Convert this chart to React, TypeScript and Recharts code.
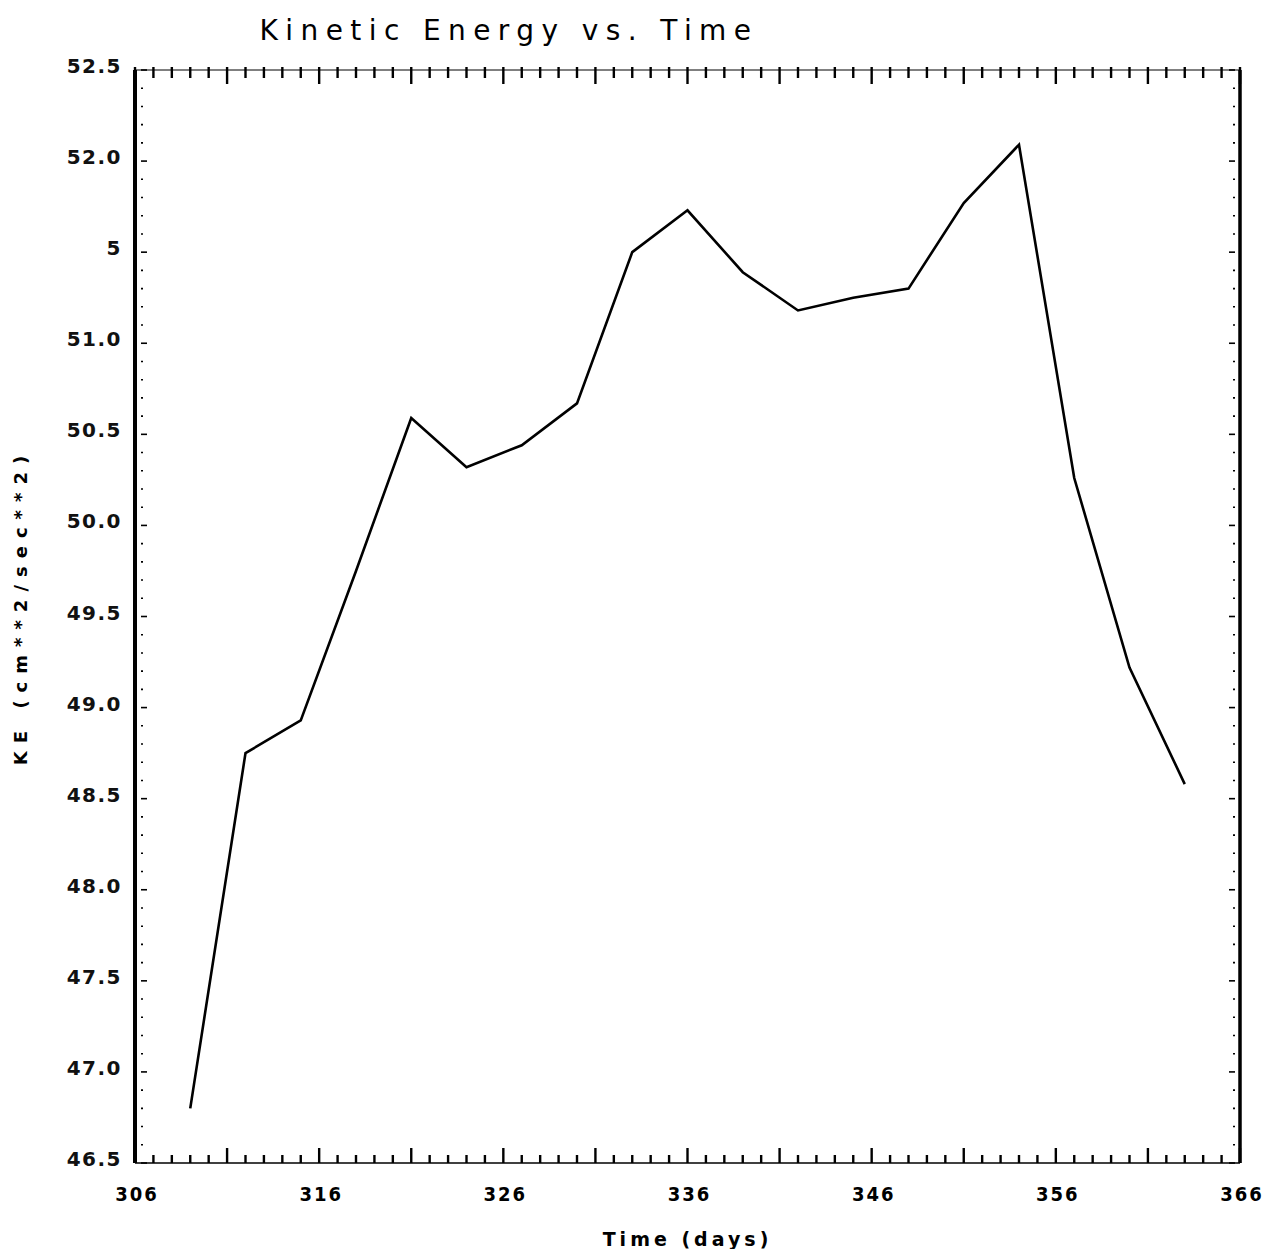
import React from 'react';
import { LineChart, Line, XAxis, YAxis, Label } from 'recharts';

// ---- data ----
const days = [309, 312, 315, 318, 321, 324, 327, 330, 333, 336, 339, 342, 345, 348, 351, 354, 357, 360, 363];
const kineticEnergy = [46.8, 48.75, 48.93, 49.75, 50.59, 50.32, 50.44, 50.67, 51.5, 51.73, 51.39, 51.18, 51.25, 51.3, 51.77, 52.09, 50.26, 49.22, 48.58];

const xLabelDays = [306, 316, 326, 336, 346, 356, 366];
const xTickDays = Array.from({ length: 61 }, (_, i) => 306 + i);

const yLabelValues = [46.5, 47.0, 47.5, 48.0, 48.5, 49.0, 49.5, 50.0, 50.5, 51.0, 51.5, 52.0, 52.5];
const yLabelTexts = ['46.5', '47.0', '47.5', '48.0', '48.5', '49.0', '49.5', '50.0', '50.5', '51.0', '5', '52.0', '52.5'];
const yTickValues = Array.from({ length: 61 }, (_, i) => Math.round((46.5 + i * 0.1) * 10) / 10);

const title = 'Kinetic Energy vs. Time';
const xTitle = 'Time (days)';
const yTitle = 'KE (cm**2/sec**2)';

const data = days.map((d, i) => ({ day: d, ke: kineticEnergy[i] }));

const isMajorX = (v: number) => (v - 306) % 5 === 0;
const isMajorY = (v: number) => Math.abs(v * 2 - Math.round(v * 2)) < 1e-6;

const BottomTick = (props: any) => {
  const { x, y, payload } = props;
  const v = payload.value;
  const labelIdx = xLabelDays.indexOf(v);
  return (
    <g>
      <line x1={x} x2={x} y1={y} y2={y - (isMajorX(v) ? 15 : 8)} stroke="#000" strokeWidth={2.4} />
      {labelIdx >= 0 && (
        <text
          x={x + 2}
          y={y + 38}
          textAnchor="middle"
          fill="#000"
          style={{ fontFamily: 'DejaVu Sans Condensed, DejaVu Sans', fontWeight: 700, fontStretch: 'condensed', fontSize: 20, letterSpacing: 2 }}
        >
          {xLabelDays[labelIdx]}
        </text>
      )}
    </g>
  );
};

const TopTick = (props: any) => {
  const { x, y, payload } = props;
  const v = payload.value;
  return <line x1={x} x2={x} y1={y - 3} y2={y + (isMajorX(v) ? 14 : 8)} stroke="#000" strokeWidth={2.4} />;
};

const LeftTick = (props: any) => {
  const { x, y, payload } = props;
  const v = payload.value;
  const major = isMajorY(v);
  const idx = yLabelValues.findIndex((t) => Math.abs(t - v) < 1e-6);
  return (
    <g>
      <line x1={x + 6} x2={x + (major ? 12 : 8)} y1={y} y2={y} stroke="#000" strokeWidth={1.6} />
      {idx >= 0 && (
        <text
          x={x - 13}
          y={y + 3}
          textAnchor="end"
          fill="#111"
          style={{ fontFamily: 'DejaVu Sans', fontWeight: 600, fontSize: 20, letterSpacing: 1.5 }}
        >
          {yLabelTexts[idx]}
        </text>
      )}
    </g>
  );
};

const RightTick = (props: any) => {
  const { x, y, payload } = props;
  const v = payload.value;
  const major = isMajorY(v);
  return <line x1={x - 5} x2={x - (major ? 11 : 7)} y1={y} y2={y} stroke="#000" strokeWidth={1.6} />;
};

export default function App() {
  return (
    <div style={{ position: 'relative', width: 1266, height: 1241 }}>
      <div
        style={{
          position: 'absolute',
          left: 501,
          top: 6,
          transform: 'translateX(-50%)',
          whiteSpace: 'nowrap',
          fontFamily: 'DejaVu Sans',
          fontSize: 28,
          letterSpacing: 7.4,
          color: '#000',
        }}
      >
        {title}
      </div>
      <LineChart width={1266} height={1241} data={data} margin={{ top: 52, right: 24, bottom: 0, left: 0 }}>
        <XAxis
          xAxisId="bottom"
          dataKey="day"
          type="number"
          domain={[306, 366]}
          ticks={xTickDays}
          interval={0}
          allowDataOverflow
          height={86}
          tickSize={0}
          tickMargin={0}
          tickLine={false}
          tick={<BottomTick />}
          axisLine={{ stroke: '#000', strokeWidth: 1.5 }}
        >
          <Label
            value={xTitle}
            position="insideBottom"
            offset={3}
            style={{ fontFamily: 'DejaVu Sans', fontWeight: 700, fontSize: 19, letterSpacing: 4, fill: '#000' }}
          />
        </XAxis>
        <XAxis
          xAxisId="top"
          orientation="top"
          dataKey="day"
          type="number"
          domain={[306, 366]}
          ticks={xTickDays}
          interval={0}
          allowDataOverflow
          height={10}
          tickSize={0}
          tickMargin={0}
          tickLine={false}
          tick={<TopTick />}
          axisLine={{ stroke: '#000', strokeWidth: 1 }}
        />
        <YAxis
          yAxisId="left"
          type="number"
          domain={[46.5, 52.5]}
          ticks={yTickValues}
          interval={0}
          allowDataOverflow
          width={127}
          tickSize={0}
          tickMargin={0}
          tickLine={false}
          tick={<LeftTick />}
          axisLine={{ stroke: '#000', strokeWidth: 4 }}
        >
          <Label
            content={(p: any) => {
              const vb = p.viewBox || { x: 0, y: 0, width: 0, height: 0 };
              const cx = vb.x + 12;
              const cy = vb.y + vb.height / 2 - 10;
              return (
                <text
                  x={cx}
                  y={cy}
                  transform={`rotate(-90, ${cx}, ${cy})`}
                  textAnchor="middle"
                  dominantBaseline="central"
                  fill="#000"
                  style={{ fontFamily: 'DejaVu Sans', fontWeight: 700, fontSize: 18, letterSpacing: 8 }}
                >
                  {yTitle}
                </text>
              );
            }}
          />
        </YAxis>
        <YAxis
          yAxisId="right"
          orientation="right"
          type="number"
          domain={[46.5, 52.5]}
          ticks={yTickValues}
          interval={0}
          allowDataOverflow
          width={10}
          tickSize={0}
          tickMargin={0}
          tickLine={false}
          tick={<RightTick />}
          axisLine={{ stroke: '#000', strokeWidth: 3.5 }}
        />
        <Line
          xAxisId="bottom"
          yAxisId="left"
          type="linear"
          dataKey="ke"
          stroke="#000"
          strokeWidth={2.6}
          dot={false}
          isAnimationActive={false}
        />
      </LineChart>
    </div>
  );
}
